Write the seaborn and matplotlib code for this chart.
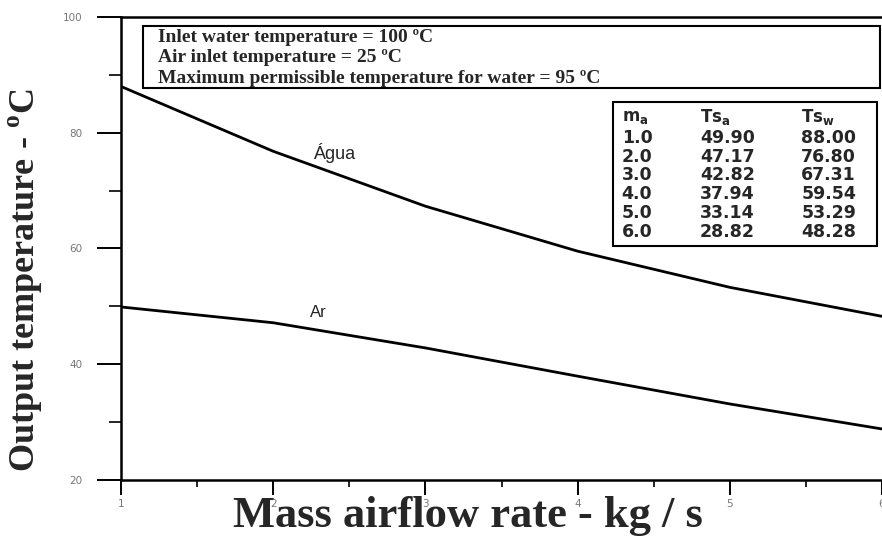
import numpy as np
import pandas as pd
import matplotlib
matplotlib.use("Agg")
import matplotlib.pyplot as plt
import seaborn as sns
from matplotlib.patches import Rectangle
from matplotlib.ticker import MultipleLocator

mass_flow = [1.0, 2.0, 3.0, 4.0, 5.0, 6.0]
ts_air = [49.90, 47.17, 42.82, 37.94, 33.14, 28.82]
ts_water = [88.00, 76.80, 67.31, 59.54, 53.29, 48.28]
note_lines = [
    "Inlet water temperature = 100 \u00baC",
    "Air inlet temperature = 25 \u00baC",
    "Maximum permissible temperature for water = 95 \u00baC",
]

df = pd.DataFrame({
    "m": mass_flow * 2,
    "T": ts_water + ts_air,
    "fluid": ["Água"] * len(mass_flow) + ["Ar"] * len(mass_flow),
})

sns.set_theme(style="ticks")
plt.rcParams["font.family"] = ["DejaVu Sans"]

fig = plt.figure(figsize=(8.82, 5.36), dpi=100)
ax = fig.add_axes([121 / 882, 56 / 536, 761 / 882, 463 / 536])

sns.lineplot(data=df, x="m", y="T", hue="fluid",
             palette={"Água": "black", "Ar": "black"},
             linewidth=2, legend=False, ax=ax)

ax.set_xlim(1, 6)
ax.set_ylim(20, 100)
ax.xaxis.set_major_locator(MultipleLocator(1))
ax.xaxis.set_minor_locator(MultipleLocator(0.5))
ax.yaxis.set_major_locator(MultipleLocator(20))
ax.yaxis.set_minor_locator(MultipleLocator(10))

for s in ["left", "bottom", "top"]:
    ax.spines[s].set_linewidth(1.8)
    ax.spines[s].set_color("black")
ax.spines["right"].set_visible(False)

ax.tick_params(axis="both", which="both", color="black",
               labelsize=7.5, labelcolor="#777777")
ax.tick_params(axis="y", which="major", length=17, width=1.4, pad=11)
ax.tick_params(axis="y", which="minor", length=9, width=1.2)
ax.tick_params(axis="x", which="major", length=11, width=1.4, pad=3)
ax.tick_params(axis="x", which="minor", length=5, width=1.2)

serif = ["Liberation Serif", "DejaVu Serif"]
ax.set_xlabel("Mass airflow rate - kg / s", fontsize=32, fontweight="bold",
              family=serif, va="top")
ax.xaxis.set_label_coords(0.456, -0.035)
ax.set_ylabel("Output temperature - $^{\\mathregular{o}}$C", fontsize=26,
              fontweight="bold", family=serif, va="center")
ax.yaxis.set_label_coords(-0.125, 0.432)

# curve labels
ax.text(2.26, 76.5, "Água", fontsize=13, family=["Liberation Sans"], va="center")
ax.text(2.24, 48.9, "Ar", fontsize=12, family=["Liberation Sans"], va="center")

# conditions box
ax.add_patch(Rectangle((0.029, 0.847), 0.968, 0.134, transform=ax.transAxes,
                       fill=False, edgecolor="black", linewidth=1.5))
for i, line in enumerate(note_lines):
    ax.text(0.0486, 0.956 - i * 0.0445, line, transform=ax.transAxes,
            fontsize=14, fontweight="bold", family=serif, va="center")

# inset table
ax.add_patch(Rectangle((0.646, 0.505), 0.347, 0.311, transform=ax.transAxes,
                       facecolor="white", edgecolor="black",
                       linewidth=1.5, zorder=3))
tfont = ["DejaVu Sans"]
col_x = [0.658, 0.761, 0.894]
headers = ["$\\mathregular{m_a}$", "$\\mathregular{Ts_a}$", "$\\mathregular{Ts_w}$"]
for cx, h in zip(col_x, headers):
    ax.text(cx, 0.784, h, transform=ax.transAxes, fontsize=12,
            fontweight="bold", family=tfont, va="center", zorder=4)
for i, (m, a, w) in enumerate(zip(mass_flow, ts_air, ts_water)):
    y = 0.739 - i * 0.0406
    for cx, val in zip(col_x, [f"{m:.1f}", f"{a:.2f}", f"{w:.2f}"]):
        ax.text(cx, y, val, transform=ax.transAxes, fontsize=12.5,
                fontweight="bold", family=tfont, va="center", zorder=4)

fig.savefig("out.png", dpi=100)
